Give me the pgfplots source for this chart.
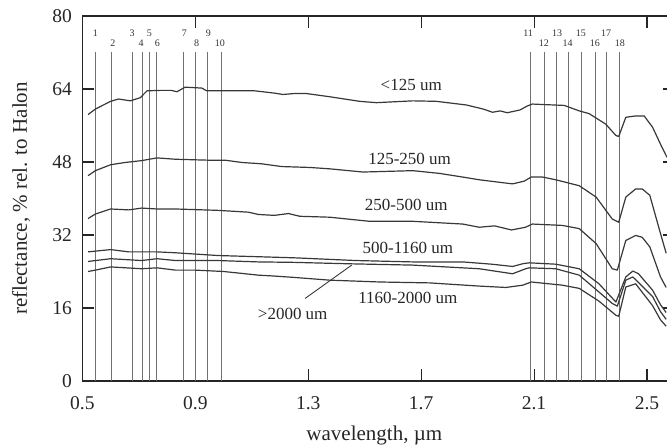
\documentclass[border=0pt]{standalone}
\usepackage{fontspec}
\setmainfont{Liberation Serif}
\usepackage{pgfplots}
\pgfplotsset{compat=1.18}

\definecolor{axisc}{HTML}{262626}
\definecolor{curvec}{HTML}{383838}
\definecolor{vlinec}{HTML}{707070}

\begin{document}
\begin{tikzpicture}
\begin{axis}[
  scale only axis,
  width=592.8pt, height=365pt,
  xmin=0.5, xmax=2.6,
  ymin=0, ymax=80,
  xtick={0.5,0.9,1.3,1.7,2.1,2.5},
  xticklabels={0.5,0.9,1.3,1.7,2.1,2.5},
  ytick={0,16,32,48,64,80},
  tick align=inside,
  major tick length=12pt,
  tick style={line width=1.1pt, color=axisc},
  axis line style={line width=1.5pt, color=axisc},
  /pgf/number format/assume math mode=true,
  tick label style={font=\fontsize{19.5}{21}\selectfont, text=black!85},
  xticklabel style={yshift=-12pt},
  yticklabel style={xshift=-7pt},
  xlabel={wavelength, µm},
  ylabel={reflectance, \% rel. to Halon},
  label style={font=\fontsize{21}{24}\selectfont, text=black!85},
  xlabel style={at={([yshift=-54pt]axis description cs:0.4925,0)}, anchor=center},
  ylabel style={at={([xshift=-61.4pt]axis description cs:0,0.5)}, anchor=center},
  clip=false,
  curve/.style={line width=1.2pt, color=curvec, line join=round, no marks},
]

% band positions 1-18
\addplot[ycomb, no marks, line width=0.8pt, color=vlinec] coordinates {
  (0.546,72) (0.602,72) (0.676,72) (0.711,72) (0.737,72) (0.763,72)
  (0.858,72) (0.900,72) (0.944,72) (0.991,72)
  (2.087,72) (2.135,72) (2.180,72) (2.221,72) (2.268,72) (2.318,72)
  (2.357,72) (2.404,72)
};

% <125 um
\addplot[curve] coordinates {
  (0.52,58.4) (0.546,59.6) (0.60,61.3) (0.628,61.8) (0.67,61.4) (0.705,62.1)
  (0.729,63.6) (0.78,63.7) (0.815,63.7) (0.835,63.4) (0.864,64.4) (0.923,64.2)
  (0.94,63.6) (0.98,63.6) (1.11,63.6) (1.18,63.1) (1.21,62.8) (1.25,63.0)
  (1.294,63.0) (1.376,62.3) (1.482,61.3) (1.541,61.0) (1.67,61.4) (1.753,61.3)
  (1.86,60.5) (1.92,59.6) (1.953,58.9) (1.98,59.2) (2.005,58.8) (2.05,59.4)
  (2.077,60.3) (2.094,60.7) (2.13,60.6) (2.207,60.4) (2.26,59.2) (2.295,58.6)
  (2.354,56.3) (2.39,53.8) (2.40,53.6) (2.425,57.8) (2.46,58.1) (2.49,58.1)
  (2.52,55.6) (2.548,51.9) (2.571,49.0)
};
% 125-250 um
\addplot[curve] coordinates {
  (0.52,45.0) (0.546,46.1) (0.60,47.4) (0.652,47.9) (0.71,48.3) (0.764,48.9)
  (0.83,48.6) (0.945,48.4) (1.005,48.4) (1.064,47.9) (1.135,47.6) (1.206,47.0)
  (1.306,46.8) (1.376,46.5) (1.494,45.8) (1.67,46.1) (1.765,45.5) (1.847,44.7)
  (1.906,44.1) (2.024,43.2) (2.065,43.8) (2.09,44.7) (2.13,44.7) (2.177,44.1)
  (2.26,42.8) (2.32,40.3) (2.377,35.5) (2.40,34.8) (2.425,40.3) (2.46,42.1)
  (2.483,42.1) (2.51,40.7) (2.548,32.3) (2.568,28.0)
};
% 250-500 um
\addplot[curve] coordinates {
  (0.52,35.6) (0.546,36.6) (0.60,37.7) (0.664,37.5) (0.71,37.9) (0.764,37.7)
  (0.83,37.7) (0.98,37.4) (1.088,37.0) (1.123,36.5) (1.18,36.3) (1.23,36.7)
  (1.27,36.1) (1.376,35.9) (1.517,35.0) (1.67,35.0) (1.847,34.4) (1.906,33.7)
  (1.96,34.0) (2.02,33.1) (2.07,33.7) (2.094,34.4) (2.20,34.1) (2.26,33.4)
  (2.32,30.1) (2.377,24.6) (2.395,24.3) (2.425,30.8) (2.46,31.9) (2.483,31.5)
  (2.51,29.4) (2.548,22.8) (2.568,20.5)
};
% 500-1160 um
\addplot[curve] coordinates {
  (0.52,28.3) (0.60,28.8) (0.664,28.3) (0.764,28.3) (0.83,28.1) (0.98,27.5)
  (1.088,27.3) (1.25,27.0) (1.47,26.4) (1.67,26.1) (1.847,26.1) (1.95,25.6)
  (2.024,25.1) (2.06,25.7) (2.083,25.9) (2.177,25.6) (2.26,24.6) (2.33,21.3)
  (2.39,17.3) (2.425,22.8) (2.45,24.1) (2.47,23.5) (2.52,19.9) (2.548,16.7)
  (2.568,15.0)
};
% >2000 um
\addplot[curve] coordinates {
  (0.52,26.2) (0.60,26.8) (0.71,26.4) (0.764,26.8) (0.83,26.4) (0.98,26.4)
  (1.123,26.1) (1.25,26.0) (1.436,25.7) (1.67,25.4) (1.906,24.6) (2.024,23.5)
  (2.07,24.6) (2.083,24.8) (2.177,24.6) (2.26,23.2) (2.377,17.0) (2.395,16.4)
  (2.425,22.1) (2.45,22.8) (2.52,18.5) (2.548,15.2) (2.568,13.5)
};
% 1160-2000 um
\addplot[curve] coordinates {
  (0.52,24.0) (0.546,24.3) (0.60,25.0) (0.71,24.6) (0.764,24.8) (0.83,24.3)
  (0.90,24.3) (1.0,24.0) (1.123,23.2) (1.18,23.0) (1.25,22.7) (1.376,22.1)
  (1.553,21.7) (1.73,21.5) (1.906,20.8) (2.0,20.5) (2.06,21.0) (2.09,21.7)
  (2.20,21.0) (2.26,20.3) (2.33,17.5) (2.39,14.4) (2.40,14.2) (2.425,20.6)
  (2.46,21.3) (2.52,16.5) (2.548,13.4) (2.568,12.0)
};

% band numbers
\begin{scope}[every node/.style={font=\fontsize{10}{11}\selectfont, text=black!80, inner sep=0pt}]
  \node at (axis cs:0.546,76.3) {1};
  \node at (axis cs:0.608,74.1) {2};
  \node at (axis cs:0.676,76.3) {3};
  \node at (axis cs:0.708,74.1) {4};
  \node at (axis cs:0.737,76.3) {5};
  \node at (axis cs:0.766,74.1) {6};
  \node at (axis cs:0.861,76.3) {7};
  \node at (axis cs:0.905,74.1) {8};
  \node at (axis cs:0.946,76.3) {9};
  \node at (axis cs:0.987,74.1) {10};
  \node at (axis cs:2.079,76.3) {11};
  \node at (axis cs:2.135,74.1) {12};
  \node at (axis cs:2.182,76.3) {13};
  \node at (axis cs:2.219,74.1) {14};
  \node at (axis cs:2.266,76.3) {15};
  \node at (axis cs:2.315,74.1) {16};
  \node at (axis cs:2.355,76.3) {17};
  \node at (axis cs:2.404,74.1) {18};
\end{scope}

% curve labels
\begin{scope}[every node/.style={font=\fontsize{17}{19}\selectfont, text=black!85}]
  \node at (axis cs:1.665,64.9) {<125 um};
  \node at (axis cs:1.659,48.6) {125-250 um};
  \node at (axis cs:1.647,38.6) {250-500 um};
  \node at (axis cs:1.653,29.1) {500-1160 um};
  \node at (axis cs:1.653,18.3) {1160-2000 um};
  \node at (axis cs:1.245,14.8) {>2000 um};
\end{scope}
\draw[line width=0.9pt, color=curvec] (axis cs:1.289,18.1) -- (axis cs:1.454,25.4);

\end{axis}
\pgfresetboundingbox
\path[use as bounding box]
  ([xshift=-82.4pt,yshift=-66pt]current axis.south west)
  rectangle ([xshift=-8.2pt,yshift=16pt]current axis.north east);
\end{tikzpicture}
\end{document}
